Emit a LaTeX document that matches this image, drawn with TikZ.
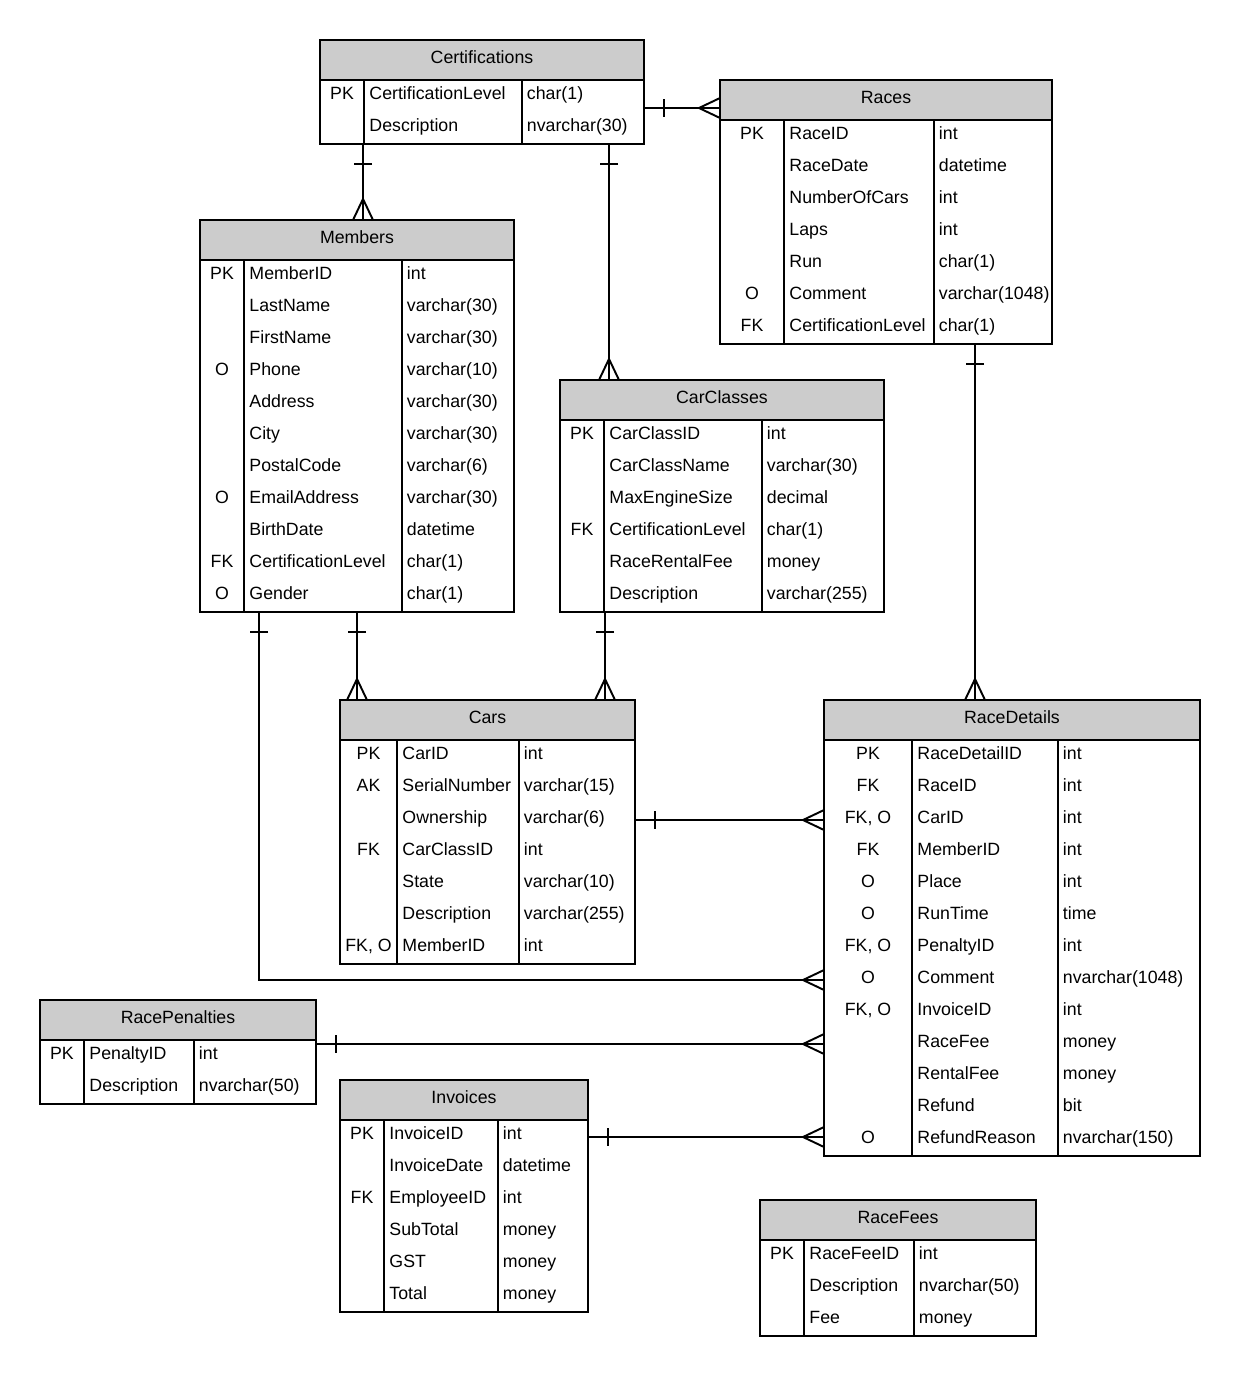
\documentclass[tikz,border=0pt]{standalone}
\usepackage{fontspec}
\setmainfont{Liberation Sans}
\usetikzlibrary{calc,decorations.markings}

\definecolor{hdrgray}{HTML}{CCCCCC}

% entity box: name, title, x, y, key/name/type column widths, number of rows, rows
\newcommand{\erentity}[9]{%
  \pgfmathsetmacro{\tabw}{#5+#6+#7}
  \pgfmathsetmacro{\tabh}{40+32*#8}
  \fill[hdrgray] (#3,#4) rectangle ++(\tabw,40);
  \node[entity, minimum width=\tabw*0.02cm, minimum height=\tabh*0.02cm] (#1) at (#3,#4) {};
  \draw (#3,#4+40) -- ++(\tabw,0);
  \draw (#3+#5,#4+40) -- ++(0,32*#8);
  \draw (#3+#5+#6,#4+40) -- ++(0,32*#8);
  \node[titletext] (#1-title) at (#3+\tabw/2,#4+23) {#2};
  \foreach \fkey/\fname/\ftype [count=\i from 0] in {#9} {
    \node[keytext] (#1-k\i) at (#3+#5/2,#4+59.5+32*\i) {\fkey};
    \node[celltext] (#1-n\i) at (#3+#5+4.5,#4+59.5+32*\i) {\fname};
    \node[celltext] (#1-t\i) at (#3+#5+#6+4,#4+59.5+32*\i) {\ftype};
  }
}

\begin{document}
\begin{tikzpicture}[x=0.02cm, y=-0.02cm, line width=1.1pt,
    font=\fontsize{10.1}{12}\selectfont,
    entity/.style={draw, anchor=north west, inner sep=0pt, outer sep=0pt},
    titletext/.style={anchor=base, inner sep=0pt},
    keytext/.style={anchor=base, inner sep=0pt},
    celltext/.style={anchor=base west, inner sep=0pt},
    onemany/.style={postaction={decorate, decoration={markings,
        mark=at position 11.6pt with {\draw (0,-9) -- (0,9);},
        mark=at position 1 with {\draw (0,10) -- (-21,0) -- (0,-10);}}}}]
    \useasboundingbox (0,0) rectangle (1240,1376);

    % tables
    \erentity{cert}{Certifications}{320}{40}{44}{158}{122}{2}{
        PK/CertificationLevel/char(1), {}/Description/nvarchar(30)}
    \erentity{races}{Races}{720}{80}{64}{150}{118}{7}{
        PK/RaceID/int, {}/RaceDate/datetime, {}/NumberOfCars/int, {}/Laps/int,
        {}/Run/char(1), O/Comment/varchar(1048), FK/CertificationLevel/char(1)}
    \erentity{members}{Members}{200}{220}{44}{158}{112}{11}{
        PK/MemberID/int, {}/LastName/varchar(30), {}/FirstName/varchar(30),
        O/Phone/varchar(10), {}/Address/varchar(30), {}/City/varchar(30),
        {}/PostalCode/varchar(6), O/EmailAddress/varchar(30), {}/BirthDate/datetime,
        FK/CertificationLevel/char(1), O/Gender/char(1)}
    \erentity{carclasses}{CarClasses}{560}{380}{44}{158}{122}{6}{
        PK/CarClassID/int, {}/CarClassName/varchar(30), {}/MaxEngineSize/decimal,
        FK/CertificationLevel/char(1), {}/RaceRentalFee/money, {}/Description/varchar(255)}
    \erentity{cars}{Cars}{340}{700}{57}{122}{116}{7}{
        PK/CarID/int, AK/SerialNumber/varchar(15), {}/Ownership/varchar(6),
        FK/CarClassID/int, {}/State/varchar(10), {}/Description/varchar(255),
        {FK, O}/MemberID/int}
    \erentity{racedet}{RaceDetails}{824}{700}{88}{146}{142}{13}{
        PK/RaceDetailID/int, FK/RaceID/int, {FK, O}/CarID/int, FK/MemberID/int,
        O/Place/int, O/RunTime/time, {FK, O}/PenaltyID/int, O/Comment/nvarchar(1048),
        {FK, O}/InvoiceID/int, {}/RaceFee/money, {}/RentalFee/money, {}/Refund/bit,
        O/RefundReason/nvarchar(150)}
    \erentity{penalties}{RacePenalties}{40}{1000}{44}{110}{122}{2}{
        PK/PenaltyID/int, {}/Description/nvarchar(50)}
    \erentity{invoices}{Invoices}{340}{1080}{44}{114}{90}{6}{
        PK/InvoiceID/int, {}/InvoiceDate/datetime, FK/EmployeeID/int,
        {}/SubTotal/money, {}/GST/money, {}/Total/money}
    \erentity{fees}{RaceFees}{760}{1200}{44}{110}{122}{3}{
        PK/RaceFeeID/int, {}/Description/nvarchar(50), {}/Fee/money}

    % relationships (one -> many)
    \draw[onemany] (cert.east |- 0,108) -- (races.west |- 0,108);
    \draw[onemany] (cert.south -| 363,0) -- (members.north -| 363,0);
    \draw[onemany] (cert.south -| 609,0) -- (carclasses.north -| 609,0);
    \draw[onemany] (races.south -| 975,0) -- (racedet.north -| 975,0);
    \draw[onemany] (members.south -| 357,0) -- (cars.north -| 357,0);
    \draw[onemany] (carclasses.south -| 605,0) -- (cars.north -| 605,0);
    \draw[onemany] (cars.east |- 0,820) -- (racedet.west |- 0,820);
    \draw[onemany] (members.south -| 259,0) |- (racedet.west |- 0,980);
    \draw[onemany] (penalties.east |- 0,1044) -- (racedet.west |- 0,1044);
    \draw[onemany] (invoices.east |- 0,1137) -- (racedet.west |- 0,1137);
\end{tikzpicture}
\end{document}
